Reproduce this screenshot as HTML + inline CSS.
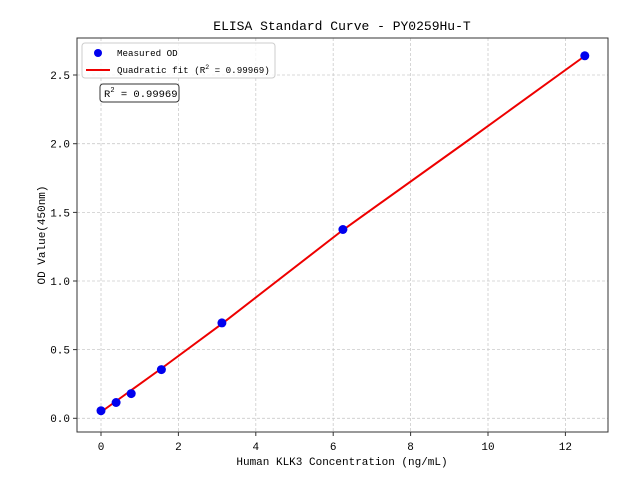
<!DOCTYPE html>
<html><head><meta charset="utf-8"><style>body{margin:0;background:#fff}svg{display:block}text{font-family:"Liberation Mono",monospace;fill:#000}</style></head><body>
<svg width="640" height="480" xmlns="http://www.w3.org/2000/svg">
<g stroke="#ccc" stroke-dasharray="3,2" stroke-width="0.8">
<line x1="101" y1="38" x2="101" y2="432"/><line x1="178.4" y1="38" x2="178.4" y2="432"/><line x1="255.8" y1="38" x2="255.8" y2="432"/><line x1="333.2" y1="38" x2="333.2" y2="432"/><line x1="410.6" y1="38" x2="410.6" y2="432"/><line x1="488" y1="38" x2="488" y2="432"/><line x1="565.4" y1="38" x2="565.4" y2="432"/>
<line x1="77" y1="418.3" x2="608" y2="418.3"/><line x1="77" y1="349.6" x2="608" y2="349.6"/><line x1="77" y1="281" x2="608" y2="281"/><line x1="77" y1="212.4" x2="608" y2="212.4"/><line x1="77" y1="143.7" x2="608" y2="143.7"/><line x1="77" y1="75" x2="608" y2="75"/>
</g>
<polyline fill="none" stroke="#e00" stroke-width="2" points="101,412 161.4,368.5 221.9,323.8 342.9,230 463.8,143.5 584.8,56"/>
<g fill="#0000ee">
<circle cx="101" cy="410.7" r="4.5"/><circle cx="116.1" cy="402.5" r="4.5"/><circle cx="131.2" cy="393.6" r="4.5"/><circle cx="161.4" cy="369.6" r="4.5"/><circle cx="221.9" cy="322.9" r="4.5"/><circle cx="342.9" cy="229.5" r="4.5"/><circle cx="584.8" cy="55.8" r="4.5"/>
</g>
<rect x="77" y="38" width="531" height="394" fill="none" stroke="#333" stroke-width="1"/>
<g stroke="#333"><line x1="101" y1="432" x2="101" y2="436"/><line x1="178.4" y1="432" x2="178.4" y2="436"/><line x1="255.8" y1="432" x2="255.8" y2="436"/><line x1="333.2" y1="432" x2="333.2" y2="436"/><line x1="410.6" y1="432" x2="410.6" y2="436"/><line x1="488" y1="432" x2="488" y2="436"/><line x1="565.4" y1="432" x2="565.4" y2="436"/>
<line x1="73" y1="418.3" x2="77" y2="418.3"/><line x1="73" y1="349.6" x2="77" y2="349.6"/><line x1="73" y1="281" x2="77" y2="281"/><line x1="73" y1="212.4" x2="77" y2="212.4"/><line x1="73" y1="143.7" x2="77" y2="143.7"/><line x1="73" y1="75" x2="77" y2="75"/></g>
<g font-size="11" text-anchor="middle"><text x="101" y="450">0</text><text x="178.4" y="450">2</text><text x="255.8" y="450">4</text><text x="333.2" y="450">6</text><text x="410.6" y="450">8</text><text x="488" y="450">10</text><text x="565.4" y="450">12</text></g>
<g font-size="11" text-anchor="end"><text x="70" y="422">0.0</text><text x="70" y="353.5">0.5</text><text x="70" y="285">1.0</text><text x="70" y="216.5">1.5</text><text x="70" y="147.5">2.0</text><text x="70" y="79">2.5</text></g>
<text x="342" y="465" font-size="11" text-anchor="middle">Human KLK3 Concentration (ng/mL)</text>
<text transform="translate(45,235) rotate(-90)" font-size="11" text-anchor="middle">OD Value(450nm)</text>
<text x="342" y="30" font-size="13" text-anchor="middle">ELISA Standard Curve - PY0259Hu-T</text>
<rect x="82" y="43" width="193" height="35" rx="3" fill="#fff" fill-opacity="0.8" stroke="#ccc"/>
<circle cx="98" cy="53" r="4" fill="#0000ee"/>
<text x="117" y="56" font-size="9.2">Measured OD</text>
<line x1="86" y1="70" x2="110" y2="70" stroke="#e00" stroke-width="2"/>
<text x="117" y="73" font-size="9.2">Quadratic fit (R<tspan dy="-4" font-size="6.5">2</tspan><tspan dy="4"> = 0.99969)</tspan></text>
<rect x="100" y="84" width="79" height="18" rx="3" fill="#fff" stroke="#333"/>
<text x="104" y="97" font-size="10.5">R<tspan dy="-5" font-size="7">2</tspan><tspan dy="5"> = 0.99969</tspan></text>
</svg>
</body></html>
